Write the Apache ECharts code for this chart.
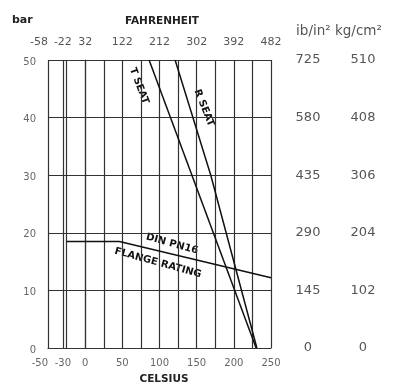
<!DOCTYPE html>
<html><head><meta charset="utf-8">
<script src="https://cdn.jsdelivr.net/npm/echarts@6/dist/echarts.min.js"></script>
<style>html,body{margin:0;padding:0;background:#fff}#c{width:395px;height:385px}</style>
</head><body><div id="c"></div>
<script>
// tick labels
const celsiusTicks = [-50, -30, 0, 50, 100, 150, 200, 250];
const fahrenheitTicks = [-58, -22, 32, 122, 212, 302, 392, 482];
const barTicks = [0, 10, 20, 30, 40, 50];
const psiTicks = [0, 145, 290, 435, 580, 725];
const kgTicks = [0, 102, 204, 306, 408, 510];

// series (°C, bar)
const tSeatC = [86, 230];
const tSeatBar = [50, 0];
const rSeatC = [121, 169, 231];
const rSeatBar = [50, 30, 0];
const flangeC = [-25, 46, 250];
const flangeBar = [18.5, 18.5, 12.2];

const FONT = 'DejaVu Sans';
const GRID = '#333';
const zip = (a, b) => a.map((v, i) => [v, b[i]]);

const chart = echarts.init(document.getElementById('c'), null, {renderer: 'canvas'});
chart.setOption({
  animation: false,
  backgroundColor: '#fff',
  grid: {left: 48, right: 124, top: 60, bottom: 37, containLabel: false},
  xAxis: [{
    type: 'value', position: 'bottom', min: -50, max: 250, interval: 25,
    axisLine: {show: true, lineStyle: {color: GRID, width: 1.2}},
    axisTick: {show: false},
    splitLine: {show: true, lineStyle: {color: GRID, width: 1.2}},
    axisLabel: {customValues: celsiusTicks, showMinLabel: true, showMaxLabel: true, hideOverlap: false,
      alignMinLabel: 'right', color: '#666', fontFamily: FONT, fontSize: 10, margin: 10}
  }, {
    type: 'value', position: 'top', min: -50, max: 250, interval: 25,
    axisLine: {show: false}, axisTick: {show: false}, splitLine: {show: false},
    axisLabel: {customValues: celsiusTicks, showMinLabel: true, showMaxLabel: true, hideOverlap: false,
      alignMinLabel: 'right', color: '#555', fontFamily: FONT, fontSize: 11, margin: 12,
      formatter: v => String(fahrenheitTicks[celsiusTicks.indexOf(v)])}
  }],
  yAxis: [{
    type: 'value', min: 0, max: 50, interval: 10, position: 'left',
    axisLine: {show: true, lineStyle: {color: GRID, width: 1.2}},
    axisTick: {show: false},
    splitLine: {show: true, lineStyle: {color: GRID, width: 1.2}},
    axisLabel: {customValues: barTicks, color: '#666', fontFamily: FONT, fontSize: 10, margin: 12, verticalAlign: 'top', padding: [-3, 0, 0, 0]}
  }, {
    type: 'value', min: 0, max: 725, interval: 145, position: 'right',
    axisLine: {show: false}, axisTick: {show: false}, splitLine: {show: false},
    axisLabel: {customValues: psiTicks, color: '#555', fontFamily: FONT, fontSize: 13, margin: 37, align: 'center'}
  }, {
    type: 'value', min: 0, max: 510, interval: 102, position: 'right', offset: 55,
    axisLine: {show: false}, axisTick: {show: false}, splitLine: {show: false},
    axisLabel: {customValues: kgTicks, color: '#555', fontFamily: FONT, fontSize: 13, margin: 37, align: 'center', padding: [0, 0, 3, 0]}
  }],
  series: [{
    name: 'T SEAT', type: 'line', xAxisIndex: 0, yAxisIndex: 0, data: zip(tSeatC, tSeatBar),
    symbol: 'none', lineStyle: {color: '#111', width: 1.5}, z: 5,
    markLine: {silent: true, symbol: 'none', label: {show: false},
      lineStyle: {color: GRID, width: 1.2, type: 'solid'}, data: [{xAxis: -30}]}
  }, {
    name: 'R SEAT', type: 'line', xAxisIndex: 0, yAxisIndex: 0, data: zip(rSeatC, rSeatBar),
    symbol: 'none', lineStyle: {color: '#111', width: 1.5}, z: 5
  }, {
    name: 'DIN PN16 FLANGE RATING', type: 'line', xAxisIndex: 0, yAxisIndex: 0, data: zip(flangeC, flangeBar),
    symbol: 'none', lineStyle: {color: '#111', width: 1.5}, z: 5
  }],
  graphic: [
    {type: 'text', left: 12, top: 15, style: {text: 'bar', font: 'bold 11px ' + FONT, fill: '#222'}},
    {type: 'text', x: 162, y: 21, style: {text: 'FAHRENHEIT', font: 'bold 10.5px ' + FONT, fill: '#222', align: 'center', verticalAlign: 'middle'}},
    {type: 'text', x: 164, y: 379, style: {text: 'CELSIUS', font: 'bold 10.5px ' + FONT, fill: '#222', align: 'center', verticalAlign: 'middle'}},
    {type: 'text', x: 339, y: 31, style: {text: 'ib/in² kg/cm²', font: '13.5px ' + FONT, fill: '#555', align: 'center', verticalAlign: 'middle'}},
    {type: 'text', x: 139, y: 86, rotation: -1.21, style: {text: 'T SEAT', font: 'bold 10px ' + FONT, fill: '#111', align: 'center', verticalAlign: 'middle'}},
    {type: 'text', x: 204, y: 108, rotation: -1.19, style: {text: 'R SEAT', font: 'bold 10px ' + FONT, fill: '#111', align: 'center', verticalAlign: 'middle'}},
    {type: 'text', x: 172, y: 244, rotation: -0.27, style: {text: 'DIN PN16', font: 'bold 10px ' + FONT, fill: '#111', align: 'center', verticalAlign: 'middle'}},
    {type: 'text', x: 158, y: 263, rotation: -0.27, style: {text: 'FLANGE RATING', font: 'bold 10px ' + FONT, fill: '#111', align: 'center', verticalAlign: 'middle'}}
  ]
});
</script>
</body></html>
